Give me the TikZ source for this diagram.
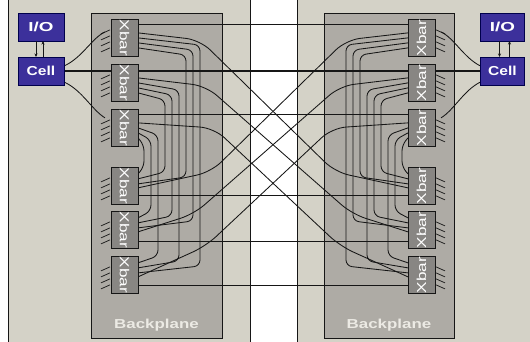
\documentclass[tikz,border=0pt]{standalone}
\usepackage{fontspec}
\setsansfont{Liberation Sans}
\usetikzlibrary{arrows.meta}
\pgfdeclarelayer{bg}
\pgfdeclarelayer{mid}
\pgfsetlayers{bg,mid,main}
\definecolor{panel}{RGB}{212,210,199}
\definecolor{bp}{RGB}{174,171,165}
\definecolor{xb}{RGB}{136,134,131}
\definecolor{cellc}{RGB}{60,48,155}
\definecolor{ink}{RGB}{22,22,22}
\definecolor{bptext}{RGB}{236,234,228}
\begin{document}
\begin{tikzpicture}[x=1pt,y=-1pt,
  xbar/.style={draw=ink,line width=0.9pt,fill=xb,minimum width=27pt,minimum height=36pt,inner sep=0pt,outer sep=0pt,text=white,font=\sffamily\fontsize{13}{13}\selectfont},
  unit/.style={draw=black!70!blue,line width=0.9pt,fill=cellc,minimum width=46pt,minimum height=28pt,inner sep=0pt,outer sep=0pt,text=white,font=\sffamily\bfseries\fontsize{13}{13}\selectfont},
  bpbox/.style={draw=ink,line width=0.9pt,fill=bp,minimum height=325pt,inner sep=0pt,outer sep=0pt},
  bplabel/.style={text=bptext,font=\sffamily\bfseries\fontsize{13}{13}\selectfont,inner sep=0pt},
  wire/.style={draw=ink,line width=0.85pt,rounded corners=6pt},
  xwire/.style={draw=ink,line width=0.85pt,rounded corners=14pt},
  bus/.style={draw=ink,line width=1.2pt},
  frame/.style={draw=ink,line width=1pt},
  pin/.style={draw=ink,line width=0.7pt},
  arr/.style={draw=ink,line width=0.9pt,-{Stealth[length=3.5pt,width=3pt]}},
]
\useasboundingbox (0,0) rectangle (530,342);
\begin{pgfonlayer}{bg}
  \fill[white] (0,0) rectangle (530,342);
  \fill[panel] (8,0) rectangle (250,342);
  \fill[panel] (297,0) rectangle (530,342);
  \node[bpbox,minimum width=131pt] (BPL) at (156.5,175.5) {};
  \node[bpbox,minimum width=130pt] (BPR) at (389,175.5) {};
  \node[bplabel] (BLL) at (156.5,325) {\scalebox{1.3}[1]{Backplane}};
  \node[bplabel] (BLR) at (389,325) {\scalebox{1.3}[1]{Backplane}};
  \draw[frame] (8,0) -- (8,342);
  \draw[frame] (250,0) -- (250,342);
  \draw[frame] (297,0) -- (297,342);
\end{pgfonlayer}

% units
\node[unit] (IOL) at (41,27) {\scalebox{1.45}[1]{I/O}};
\node[unit] (CL) at (41,71) {\scalebox{1.2}[1]{Cell}};
\node[unit,minimum width=44pt] (IOR) at (502.5,27) {\scalebox{1.45}[1]{I/O}};
\node[unit,minimum width=44pt] (CR) at (502.5,71) {\scalebox{1.2}[1]{Cell}};

% crossbars
\foreach \k/\yy in {1/38,2/83,3/128,4/186,5/230,6/275}{
  \node[xbar] (L\k) at (124.5,\yy) {\rotatebox{-90}{\scalebox{1.32}[1]{Xbar}}};
  \node[xbar] (R\k) at (421.5,\yy) {\rotatebox{90}{\scalebox{1.32}[1]{Xbar}}};
}

\begin{pgfonlayer}{mid}
  % straight buses
  \draw[bus] (CL.east) -- (CR.west);
  \draw[bus] ([yshift=-5pt]L1.north east) -- ([yshift=-5pt]R1.north west);
  \draw[bus] ([yshift=-5pt]L3.north east) -- ([yshift=-5pt]R3.north west);
  \draw[bus] ([yshift=-28pt]L4.north east) -- ([yshift=-28pt]R4.north west);
  \draw[bus] ([yshift=-30pt]L5.north east) -- ([yshift=-30pt]R5.north west);
  \draw[bus] ([yshift=-29pt]L6.north east) -- ([yshift=-29pt]R6.north west);
  % internal backplane wires
  \foreach \i/\t in {1/20,2/65,3/110}{
    \foreach \j/\b in {4/168,5/212,6/257}{
      \pgfmathsetmacro\xx{144+21*(3-\i)+7*(\j-4)}
      \pgfmathsetmacro\xr{546-\xx}
      \pgfmathsetmacro\eo{18+5*(6-\j)}
      \pgfmathsetmacro\bo{6+5*(3-\i)}
      \pgfmathsetmacro\ya{\t+\eo+7}
      \pgfmathsetmacro\yb{\b+\bo-7}
      \draw[wire] ([yshift=-\eo pt]L\i.north east) -- (\xx,\ya) -- (\xx,\yb) -- ([yshift=-\bo pt]L\j.north east);
      \draw[wire] ([yshift=-\eo pt]R\i.north west) -- (\xr,\ya) -- (\xr,\yb) -- ([yshift=-\bo pt]R\j.north west);
    }
  }
  % crossing wires through the middle
  \draw[xwire] ([yshift=-13pt]L1.north east) -- (200,40) -- (335,172) -- ([yshift=-20pt]R4.north west);
  \draw[xwire] ([yshift=-13pt]L2.north east) -- (206,86) -- (352,214) -- ([yshift=-20pt]R5.north west);
  \draw[xwire] ([yshift=-13pt]L3.north east) -- (214,128) -- (340,246) -- ([yshift=-20pt]R6.north west);
  \draw[xwire] ([yshift=-13pt]R1.north west) -- (346,40) -- (211,172) -- ([yshift=-20pt]L4.north east);
  \draw[xwire] ([yshift=-13pt]R2.north west) -- (340,86) -- (194,214) -- ([yshift=-20pt]L5.north east);
  \draw[xwire] ([yshift=-13pt]R3.north west) -- (332,128) -- (206,246) -- ([yshift=-20pt]L6.north east);
  % cell to crossbar wires
  \draw[wire] ([yshift=5pt]CL.east) .. controls (82,58) and (92,38) .. ([xshift=-6pt,yshift=-12pt]L1.north west);
  \draw[wire] ([yshift=-11pt]CL.east) .. controls (82,90) and (92,110) .. ([xshift=-6pt,yshift=-8pt]L3.north west);
  \draw[wire] ([yshift=5pt]CR.west) .. controls (464,58) and (454,38) .. ([xshift=6pt,yshift=-12pt]R1.north east);
  \draw[wire] ([yshift=-11pt]CR.west) .. controls (464,90) and (454,110) .. ([xshift=6pt,yshift=-8pt]R3.north east);
\end{pgfonlayer}

% pins
\foreach \k in {1,...,6}{
  \foreach \o in {11,17,23,29}{
    \draw[pin] ([xshift=-10pt,yshift=-\o pt-3pt]L\k.north west) -- ([xshift=-1pt,yshift=-\o pt+1pt]L\k.north west);
    \draw[pin] ([xshift=10pt,yshift=-\o pt-3pt]R\k.north east) -- ([xshift=1pt,yshift=-\o pt+1pt]R\k.north east);
  }
}

% I/O <-> Cell
\draw[arr] ([xshift=-5pt]IOL.south) -- ([xshift=-5pt]CL.north);
\draw[arr] ([xshift=2pt]CL.north) -- ([xshift=2pt]IOL.south);
\draw[arr,line width=1.3pt] ([xshift=-3pt]IOR.south) -- ([xshift=-3pt]CR.north);
\draw[arr,line width=1.3pt] ([xshift=7pt]CR.north) -- ([xshift=7pt]IOR.south);
\end{tikzpicture}
\end{document}
